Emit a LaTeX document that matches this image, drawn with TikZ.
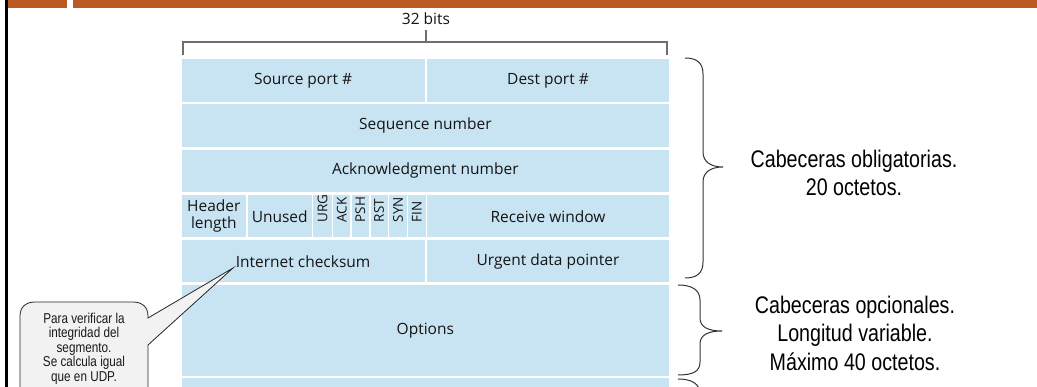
\documentclass[tikz,border=0pt]{standalone}
\usepackage{fontspec}
\newfontfamily\fieldfont{Open Sans}
\newfontfamily\notefont[FakeStretch=0.82]{Liberation Sans}
\definecolor{barorange}{HTML}{BC5A24}
\definecolor{cellblue}{HTML}{C8E4F3}
\definecolor{notegray}{HTML}{F2F2F2}
\definecolor{brackgray}{HTML}{6E6E6E}
\tikzset{
  cell/.style={fill=cellblue, inner sep=0pt, align=center, text=black!92,
    font=\fieldfont\fontsize{15.5}{17.5}\selectfont},
  flag/.style={rotate=90, anchor=west, inner sep=0pt, text=black!92,
    font=\fieldfont\fontsize{13.5}{14}\selectfont},
  bracketline/.style={draw=brackgray, line width=1.2pt},
  braceline/.style={draw=black!80, line width=1pt},
  bigtext/.style={font=\notefont\fontsize{24}{28.5}\selectfont, align=center, inner sep=0pt},
  calltext/.style={font=\notefont\fontsize{14.3}{14.6}\selectfont, align=center, inner sep=0pt, text=black!90},
  callout/.style={fill=notegray, draw=black!85, line width=0.8pt},
}
\newcommand\fieldcell[6]{\node[cell, minimum width={(#4)-(#2)}, minimum height={(#5)-(#3)}] (#1) at ({((#2)+(#4))/2},{((#3)+(#5))/2}) {#6};}
\begin{document}
\begin{tikzpicture}[x=1pt,y=-1pt]
\clip (0,0) rectangle (1037,387);
\fill[white] (0,0) rectangle (1037,387);
% top bar and left rule
\fill[barorange] (8,0) rectangle (67,8.5);
\fill[barorange] (73,0) rectangle (1037,8.5);
\fill[black] (5,0) rectangle (8,387);
% 32 bits bracket
\node[font=\fieldfont\fontsize{15.5}{17}\selectfont, text=black!92, inner sep=0pt] (bits) at (426,19) {32 bits};
\coordinate (bl) at (183,55);
\coordinate (br) at (667,55);
\coordinate (btop) at (426,30);
\coordinate (bmid) at (426,42);
\draw[bracketline] (bl) -- (183,42) -- (667,42) -- (br);
\draw[bracketline] (btop) -- (bmid);
% rows
\fieldcell{src}{181.7}{59.3}{424.5}{101.8}{Source port \#}
\fieldcell{dst}{427}{59.3}{669}{101.8}{Dest port \#}
\fieldcell{seq}{181.7}{104.5}{669}{147}{Sequence number}
\fieldcell{ack}{181.7}{149.7}{669}{192.2}{Acknowledgment number}
\fieldcell{hlen}{181.7}{194.9}{246}{237.5}{Header\\length}
\fieldcell{unused}{247.7}{194.9}{311.7}{237.5}{Unused}
\fieldcell{urgc}{313.4}{194.9}{331.7}{237.5}{}
\fieldcell{ackc}{333.2}{194.9}{350.2}{237.5}{}
\fieldcell{pshc}{351.7}{194.9}{369}{237.5}{}
\fieldcell{rstc}{370.5}{194.9}{387.7}{237.5}{}
\fieldcell{sync}{389.2}{194.9}{406.7}{237.5}{}
\fieldcell{finc}{408.2}{194.9}{425.5}{237.5}{}
\fieldcell{rwnd}{427}{194.9}{669}{237.5}{Receive window}
\fieldcell{csum}{181.7}{240}{424.5}{282.5}{Internet checksum}
\fieldcell{uptr}{427}{240}{669}{282.5}{Urgent data pointer}
\fieldcell{opts}{181.7}{285.5}{669}{376}{Options}
\fieldcell{data}{181.7}{378.5}{669}{420}{}
% flags
\node[flag] (urg) at (322.6,222.5) {URG};
\node[flag] (ackf) at (341.7,222.5) {ACK};
\node[flag] (psh) at (360.4,222.5) {PSH};
\node[flag] (rst) at (379.1,222.5) {RST};
\node[flag] (syn) at (398,222.5) {SYN};
\node[flag] (fin) at (416.9,222.5) {FIN};
% braces
\draw[braceline] (685,58) .. controls (697,58) and (703,63) .. (703,74) -- (703,152)
  .. controls (703,162) and (711,167) .. (723,167)
  .. controls (711,167) and (703,172) .. (703,182) -- (703,262)
  .. controls (703,273) and (697,278) .. (685,278);
\draw[braceline] (678,285) .. controls (692,285) and (700,290) .. (700,300) -- (700,318)
  .. controls (700,327) and (708,331) .. (722,331)
  .. controls (708,331) and (700,335) .. (700,344) -- (700,362)
  .. controls (700,372) and (692,375) .. (678,375);
\draw[braceline] (678,379) .. controls (692,379) and (700,384) .. (700,394) -- (700,420);
% side texts
\node[bigtext] (oblig) at (854,173) {Cabeceras obligatorias.\\20 octetos.};
\node[bigtext] (opcion) at (855,333) {Cabeceras opcionales.\\Longitud variable.\\Máximo 40 octetos.};
% callout
\coordinate (tip) at (233,268);
\draw[callout] (tip) -- (148,318) -- (148,316) .. controls (148,307) and (142,302) .. (133,302)
  -- (35,302) .. controls (26,302) and (20,307) .. (20,316) -- (20,400) -- (148,400) -- (148,345) -- cycle;
\node[calltext, anchor=north] (note) at (84,312.5) {Para verificar la\\integridad del\\segmento.\\Se calcula igual\\que en UDP.};
\end{tikzpicture}
\end{document}
